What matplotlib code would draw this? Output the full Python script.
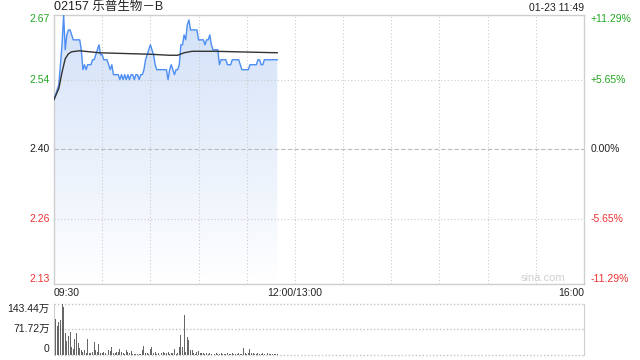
import numpy as np
import matplotlib
matplotlib.use("Agg")
import matplotlib.pyplot as plt
from matplotlib.colors import LinearSegmentedColormap
from matplotlib.patches import Polygon

FONT = ["Liberation Sans", "Noto Sans CJK SC", "DejaVu Sans"]
plt.rcParams["font.family"] = FONT

title = "02157 乐普生物－B"
stamp = "01-23 11:49"
prev_close = 2.40
price_ticks = [2.67, 2.54, 2.40, 2.26, 2.13]
pct_labels = ["+11.29%", "+5.65%", "0.00%", "-5.65%", "-11.29%"]
vol_ticks = [143.44, 71.72, 0]
vol_labels = ["143.44万", "71.72万", "0"]
time_labels = ["09:30", "12:00/13:00", "16:00"]
time_pos = [0, 150, 330]

price = [
    2.50, 2.51, 2.52, 2.53, 2.57, 2.61, 2.67, 2.60, 2.63, 2.64,
    2.64, 2.63, 2.62, 2.62, 2.62, 2.62, 2.62, 2.60, 2.56, 2.57,
    2.56, 2.57, 2.57, 2.57, 2.58, 2.58, 2.59, 2.60, 2.61, 2.59,
    2.59, 2.58, 2.58, 2.58, 2.57, 2.56, 2.57, 2.55, 2.55, 2.55,
    2.55, 2.54, 2.55, 2.54, 2.55, 2.54, 2.55, 2.54, 2.55, 2.55,
    2.54, 2.55, 2.55, 2.54, 2.55, 2.55, 2.56, 2.58, 2.59, 2.60,
    2.61, 2.60, 2.59, 2.57, 2.56, 2.56, 2.56, 2.56, 2.56, 2.56,
    2.56, 2.54, 2.56, 2.57, 2.56, 2.55, 2.56, 2.56, 2.57, 2.61,
    2.61, 2.63, 2.62, 2.65, 2.66, 2.64, 2.64, 2.64, 2.64, 2.64,
    2.62, 2.62, 2.62, 2.62, 2.61, 2.62, 2.62, 2.63, 2.61, 2.60,
    2.60, 2.60, 2.60, 2.57, 2.58, 2.58, 2.58, 2.58, 2.57, 2.57,
    2.57, 2.58, 2.58, 2.58, 2.58, 2.58, 2.57, 2.56, 2.56, 2.56,
    2.56, 2.56, 2.57, 2.57, 2.57, 2.57, 2.57, 2.58, 2.58, 2.57,
    2.57, 2.58, 2.58, 2.58, 2.58, 2.58, 2.58, 2.58, 2.58, 2.58,
]

avg_minutes = [0, 3, 5, 7, 9, 11, 16, 28, 60, 72, 77, 81, 86, 100, 139]
avg_values = [2.50, 2.522, 2.555, 2.582, 2.592, 2.596, 2.598, 2.594, 2.591,
              2.589, 2.589, 2.594, 2.597, 2.597, 2.594]

volume = [
    45, 100, 80, 92, 98, 143.44, 136, 62, 37, 52,
    65, 22, 16, 43, 60, 34, 18, 12, 8, 14,
    5, 44, 5, 3, 8, 36, 12, 6, 30, 5,
    3, 8, 5, 1, 13, 11, 22, 5, 5, 8,
    8, 16, 8, 5, 2, 14, 6, 3, 10, 2,
    2, 2, 2, 1, 1, 12, 24, 3, 3, 1,
    17, 20, 3, 7, 2, 3, 1, 3, 7, 3,
    3, 7, 1, 5, 3, 15, 1, 5, 21, 56,
    21, 111, 7, 51, 42, 13, 13, 3, 1, 8,
    10, 5, 3, 3, 1, 5, 2, 3, 2, 4,
    2, 3, 2, 1, 3, 2, 2, 1, 3, 2,
    2, 3, 1, 2, 2, 3, 2, 1, 19, 5,
    2, 3, 17, 4, 3, 2, 1, 3, 2, 2,
    3, 1, 2, 3, 2, 1, 2, 2, 1, 2,
]

GREEN = "#22a822"
RED = "#ee3333"
GRID = "#cccccc"
W, H = 640, 360

fig = plt.figure(figsize=(6.4, 3.6), dpi=100)
fig.patch.set_facecolor("white")

# main price axes
ax = fig.add_axes([54 / W, 1 - 284 / H, 530 / W, 269.5 / H])
ylo = prev_close * (1 - 0.1129)
yhi = prev_close * (1 + 0.1129)
x = np.arange(len(price))

ax.set_axisbelow(False)
ax.set_xticks(range(30, 330, 30))
ax.set_yticks([price_ticks[1], price_ticks[3]])
ax.grid(True, ls=(0, (1, 2)), color=GRID, lw=0.8)
ax.tick_params(length=0, labelleft=False, labelbottom=False)
ax.axhline(prev_close, ls=(0, (4, 2)), color="#bbbbbb", lw=0.8, zorder=3)
for s in ax.spines.values():
    s.set_color("#cfcfcf")
    s.set_linewidth(1)

# gradient fill under price
cmap = LinearSegmentedColormap.from_list("g", ["#ffffff", "#d2e1f8"])
grad = np.linspace(1, 0, 256).reshape(-1, 1)
im = ax.imshow(grad, extent=[0, 330, ylo, yhi], aspect="auto", cmap=cmap,
               origin="upper", zorder=1, vmin=0, vmax=1)
verts = [(x[0], ylo)] + list(zip(x, price)) + [(x[-1], ylo)]
poly = Polygon(verts, closed=True, facecolor="none", edgecolor="none")
ax.add_patch(poly)
im.set_clip_path(poly)

ax.plot(x, price, color="#4d8ef2", lw=1.0, zorder=4)
ax.plot(avg_minutes, avg_values, color="#333333", lw=1.0, zorder=5)
ax.set_xlim(0, 330)
ax.set_ylim(ylo, yhi)

# price and percent labels
ylab = ax.get_yaxis_transform()
for i, (p, lab) in enumerate(zip(price_ticks, pct_labels)):
    col = GREEN if p > prev_close else (RED if p < prev_close else "#222222")
    pos = yhi if i == 0 else (ylo if i == len(price_ticks) - 1 else p)
    va = "top" if i == 0 else ("bottom" if i == len(price_ticks) - 1 else "center")
    ax.text(-0.008, pos, f"{p:.2f}", transform=ylab, ha="right", va=va,
            color=col, fontsize=7.5)
    ax.text(1.012, pos, lab, transform=ylab, ha="left", va=va,
            color=col, fontsize=7.5)

# time labels
xt = ax.get_xaxis_transform()
has = ["left", "center", "right"]
for t, lab, ha in zip(time_pos, time_labels, has):
    ax.text(t, -0.034, lab, transform=xt, ha=ha, va="center",
            fontsize=7.5, color="#222222")

ax.text(0.965, 0.022, "sina.com", transform=ax.transAxes, ha="right",
        va="center", fontsize=8, color="#d0d0d0", zorder=6)

fig.text(54 / W, 1 - 7 / H, title, ha="left", va="center", fontsize=9,
         color="#222222", family=FONT)
fig.text(584 / W, 1 - 8 / H, stamp, ha="right", va="center", fontsize=7.5,
         color="#222222")

# volume axes
ax2 = fig.add_axes([54 / W, 1 - 354.5 / H, 530 / W, 50.5 / H])
ax2.bar(np.arange(len(volume)), volume, width=0.62, color="#666666", zorder=3)
ax2.set_xlim(0, 330)
ax2.set_ylim(0, vol_ticks[0])
ax2.set_xticks([])
ax2.set_yticks([])
for s in ["top", "bottom"]:
    ax2.spines[s].set_visible(False)
for s in ["left", "right"]:
    ax2.spines[s].set_color("#cfcfcf")
for v in vol_ticks:
    ax2.axhline(v, ls=(0, (1, 1.5)), color="#c4c4c4", lw=1.0, zorder=1,
                clip_on=False)
vt = ax2.get_yaxis_transform()
for i, (v, lab) in enumerate(zip(vol_ticks, vol_labels)):
    va = "top" if i == 0 else ("bottom" if i == len(vol_ticks) - 1 else "center")
    ax2.text(-0.008, v, lab, transform=vt, ha="right", va=va, fontsize=7.5,
             color="#222222", family=FONT)

fig.savefig("out.png", dpi=100)
